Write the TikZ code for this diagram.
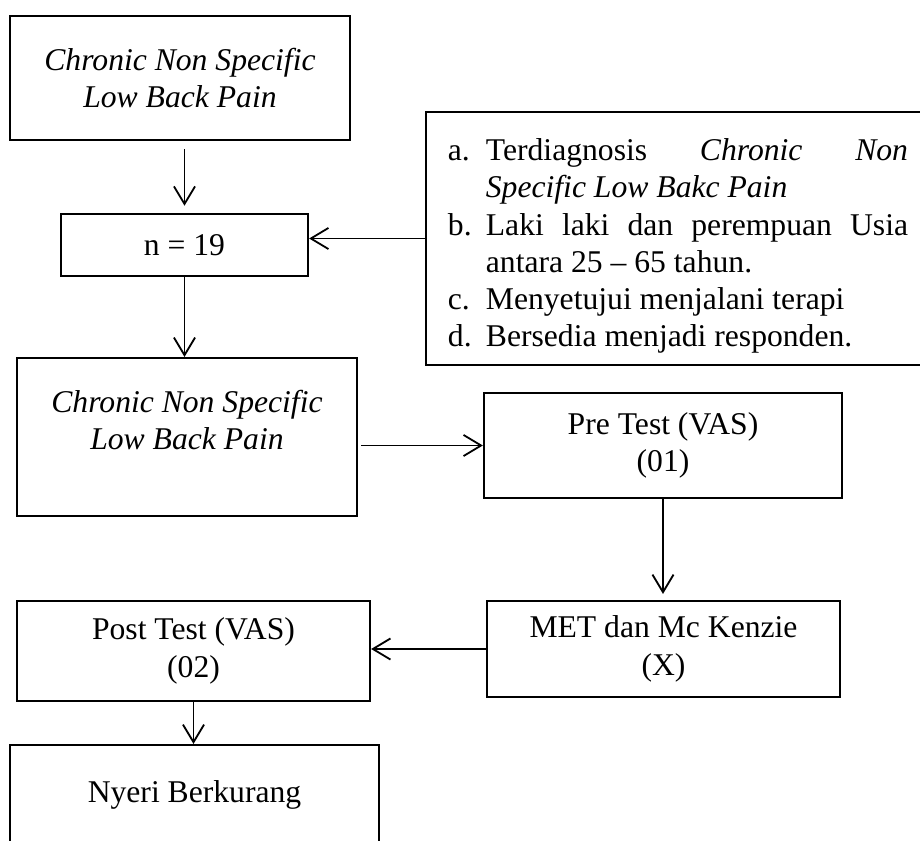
\documentclass[tikz,border=0pt]{standalone}
\usepackage{fontspec}
\setmainfont{Liberation Serif}
\usepackage{enumitem}
\usetikzlibrary{arrows.meta}

\begin{document}
\begin{tikzpicture}[x=0.025cm,y=-0.025cm,font=\fontsize{22.5}{26.5}\selectfont,
      box/.style={draw,line width=1.5pt,align=center,inner sep=0pt},
      arr/.style={-{Straight Barb[length=12.5pt,width=15pt,line width=1.3pt]},line width=1.3pt}]
      \useasboundingbox (0,0) rectangle (920,841);
      \clip (0,0) rectangle (920,841);
      \node[box,minimum width=8.5cm,minimum height=3.1cm] (cnslbp) at (180,78) {\textit{Chronic Non Specific}\\\textit{Low Back Pain}};
      \node[box,minimum width=6.175cm,minimum height=1.55cm] (n19) at (184.5,245) {n = 19};
      \node[box,text width=11.5cm,inner xsep=0.55cm,align=justify,minimum height=6.325cm] (crit) at (678,238.5) {\hyphenpenalty=10000
        \begin{enumerate}[label=\alph*.,leftmargin=27pt,labelwidth=18pt,labelsep=9pt,align=left,topsep=0pt,partopsep=0pt,itemsep=0pt,parsep=0pt]
        \item Terdiagnosis \textit{Chronic Non Specific Low Bakc Pain}
        \item Laki laki dan perempuan Usia antara 25 -- 65 tahun.
        \item Menyetujui menjalani terapi
        \item Bersedia menjadi responden.
        \end{enumerate}};
      \node[box,minimum width=8.5cm,minimum height=3.95cm,text depth=0.85cm] (lbp) at (187,437) {\textit{Chronic Non Specific}\\\textit{Low Back Pain}};
      \node[box,minimum width=8.95cm,minimum height=2.625cm] (pre) at (663,445.5) {Pre Test (VAS)\\(01)};
      \node[box,minimum width=8.825cm,minimum height=2.4cm] (met) at (663.5,649) {MET dan Mc Kenzie\\(X)};
      \node[box,minimum width=8.825cm,minimum height=2.5cm] (post) at (193.5,651) {Post Test (VAS)\\(02)};
      \node[box,minimum width=9.225cm,minimum height=2.5cm] (nyeri) at (194.5,795) {Nyeri Berkurang};
      \draw[arr,shorten <=0.2cm,shorten >=0.18cm] (n19.north |- cnslbp.south) -- (n19.north);
      \draw[arr] (crit.west) -- (crit.west -| n19.east);
      \draw[arr] (n19.south) -- (n19.south |- lbp.north);
      \draw[arr,shorten <=0.08cm] (lbp.east |- pre.west) -- (pre.west);
      \draw[arr,shorten >=0.15cm] (pre.south) -- (pre.south |- met.north);
      \draw[arr] (met.west) -- (met.west -| post.east);
      \draw[arr] (post.south) -- (post.south |- nyeri.north);
    \end{tikzpicture}
\end{document}
